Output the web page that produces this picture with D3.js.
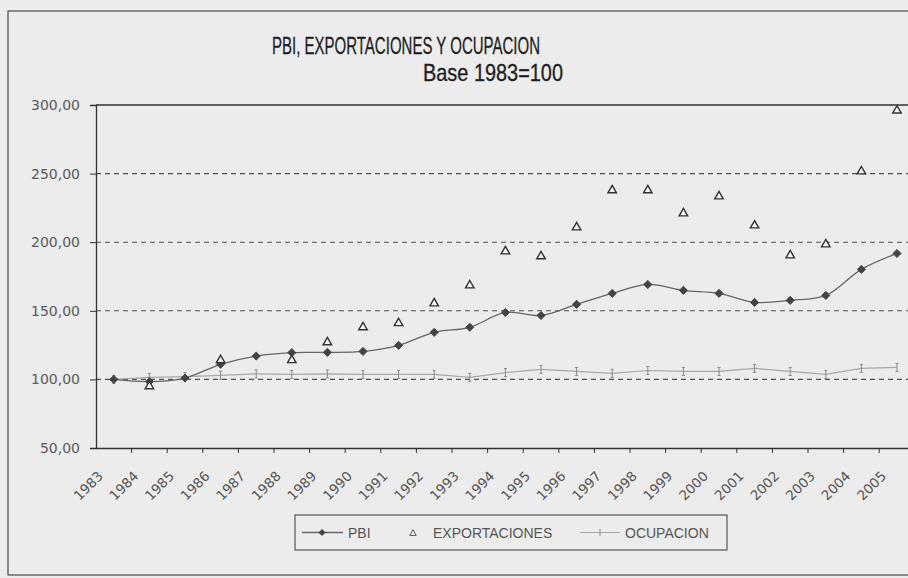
<!DOCTYPE html>
<html><head><meta charset="utf-8">
<script src="https://cdn.jsdelivr.net/npm/d3@7"></script>
<style>
html,body{margin:0;padding:0;background:#ececec;}
svg{display:block;}
</style></head>
<body>
<svg id="chart" width="908" height="578"></svg>
<script>
const years = ["1983","1984","1985","1986","1987","1988","1989","1990","1991","1992","1993","1994","1995","1996","1997","1998","1999","2000","2001","2002","2003","2004","2005"];
const pbi = [100,98.4,101,111,117,119.5,119.7,120.4,124.8,134.3,138,148.8,146.6,154.7,162.7,169.2,164.9,162.7,156.1,157.6,161.2,180.2,191.8];
const exportaciones = [null,95,null,114,null,114,127,138,141,155.4,168.5,193.3,189.7,210.8,237.8,237.8,221,233.4,212.2,190.4,198.4,251.6,296];
const ocupacion = [100,101.5,102,103,104,103.6,104,103.6,103.6,103.6,101.5,105,107.3,105.8,104.4,106.5,105.8,105.8,108,105.8,103.6,108,108.7];
const yTicks = [50,100,150,200,250,300];
const seriesNames = ["PBI","EXPORTACIONES","OCUPACION"];
const titleText = "PBI, EXPORTACIONES Y OCUPACION";
const subtitleText = "Base 1983=100";

(function(){
const svg = d3.select("#chart");
const pLeft = 96, pTop = 105, pBottom = 448, band = 35.6;
const x = d3.scaleBand().domain(years).range([pLeft, pLeft + band*years.length]).padding(0);
const y = d3.scaleLinear().domain([50,300]).range([pBottom, pTop]);
const cx = d => x(d) + x.bandwidth()/2;
const fmt = v => d3.format(".2f")(v).replace(".", ",");
const narrow = "'Liberation Sans Narrow','Arial Narrow','Liberation Sans',sans-serif";

// outer frame
svg.append("rect").attr("x",8).attr("y",11).attr("width",960).attr("height",564)
  .attr("fill","#ececec").attr("stroke","#4a4a4a").attr("stroke-width",1.2);

// title
svg.append("text").attr("x",406).attr("y",54).attr("text-anchor","middle")
  .attr("font-family",narrow).attr("font-size",24).attr("fill","#1e1e1e")
  .attr("stroke","#1e1e1e").attr("stroke-width",0.3)
  .attr("textLength",268).attr("lengthAdjust","spacingAndGlyphs").text(titleText);
svg.append("text").attr("x",493).attr("y",81).attr("text-anchor","middle")
  .attr("font-family",narrow).attr("font-size",24).attr("fill","#1e1e1e")
  .attr("stroke","#1e1e1e").attr("stroke-width",0.3)
  .attr("textLength",140).attr("lengthAdjust","spacingAndGlyphs").text(subtitleText);

// gridlines
svg.append("g").selectAll("line").data(yTicks.filter(t => t>50 && t<300)).join("line")
  .attr("x1",pLeft).attr("x2",915).attr("y1",d=>y(d)).attr("y2",d=>y(d))
  .attr("stroke","#505050").attr("stroke-width",1.1).attr("stroke-dasharray","5,4");
// top border of plot
svg.append("line").attr("x1",pLeft).attr("x2",915).attr("y1",y(300)).attr("y2",y(300))
  .attr("stroke","#333").attr("stroke-width",1.3);

// y axis
const yAxis = svg.append("g").attr("transform",`translate(${pLeft},0)`)
  .call(d3.axisLeft(y).tickValues(yTicks).tickFormat(fmt).tickSize(6).tickPadding(10));
yAxis.select(".domain").attr("stroke","#333").attr("stroke-width",1.3);
yAxis.selectAll(".tick line").attr("stroke","#333");
yAxis.selectAll("text").attr("font-family","'DejaVu Sans',sans-serif").attr("font-size",14).attr("fill","#5a5a5a");

// x axis
const xAxis = svg.append("g").attr("transform",`translate(0,${pBottom})`)
  .call(d3.axisBottom(x).tickSize(0).tickPadding(0));
xAxis.select(".domain").attr("stroke","#333").attr("stroke-width",1.3);
xAxis.selectAll("text")
  .attr("font-family","'DejaVu Sans',sans-serif").attr("font-size",13.5).attr("fill","#555")
  .attr("text-anchor","end").attr("x",0).attr("y",0).attr("dy",0)
  .attr("transform","translate(-10,29) rotate(-45)");
// category boundary ticks
svg.append("g").selectAll("line").data(years.slice(1)).join("line")
  .attr("x1",d=>x(d)).attr("x2",d=>x(d)).attr("y1",pBottom).attr("y2",pBottom+5)
  .attr("stroke","#333");

// OCUPACION line
const line = d3.line().x((d,i)=>cx(years[i])).y(d=>y(d));
svg.append("path").datum(ocupacion).attr("d",line).attr("fill","none")
  .attr("stroke","#a8a8a8").attr("stroke-width",1.2);
svg.append("g").selectAll("path").data(ocupacion).join("path")
  .attr("d",(d,i)=>`M${cx(years[i])},${y(d)-4}V${y(d)+4}M${cx(years[i])-1.5},${y(d)-4}h3M${cx(years[i])-1.5},${y(d)+4}h3`)
  .attr("stroke","#8a8a8a").attr("stroke-width",1).attr("fill","none");

// PBI line
const smooth = d3.line().x((d,i)=>cx(years[i])).y(d=>y(d)).curve(d3.curveCatmullRom.alpha(0.5));
svg.append("path").datum(pbi).attr("d",smooth).attr("fill","none")
  .attr("stroke","#666").attr("stroke-width",1.3);
svg.append("g").selectAll("path").data(pbi).join("path")
  .attr("transform",(d,i)=>`translate(${cx(years[i])},${y(d)})`)
  .attr("d",d3.symbol(d3.symbolDiamond2,42)).attr("fill","#444").attr("stroke","#444");

// EXPORTACIONES markers
const tri = d3.symbol(d3.symbolTriangle2,52);
svg.append("g").selectAll("path").data(exportaciones.map((v,i)=>({v,i})).filter(d=>d.v!=null)).join("path")
  .attr("transform",d=>`translate(${cx(years[d.i])},${y(d.v)})`)
  .attr("d",tri).attr("fill","#f4f4f4").attr("stroke","#333").attr("stroke-width",1.4);

// legend
const lg = svg.append("g");
lg.append("rect").attr("x",295).attr("y",515).attr("width",432).attr("height",35)
  .attr("fill","#ececec").attr("stroke","#555").attr("stroke-width",1.2);
const ly = 532.5;
lg.append("line").attr("x1",302).attr("x2",343).attr("y1",ly).attr("y2",ly).attr("stroke","#666").attr("stroke-width",1.3);
lg.append("path").attr("transform",`translate(322,${ly})`).attr("d",d3.symbol(d3.symbolDiamond2,32)).attr("fill","#444");
lg.append("path").attr("transform",`translate(413,${ly+1})`).attr("d",d3.symbol(d3.symbolTriangle2,30)).attr("fill","#f4f4f4").attr("stroke","#555");
lg.append("line").attr("x1",580).attr("x2",620).attr("y1",ly).attr("y2",ly).attr("stroke","#a8a8a8").attr("stroke-width",1.2);
lg.append("path").attr("d",`M600,${ly-3.5}V${ly+3.5}`).attr("stroke","#8a8a8a");
const legX = [348, 433, 625];
lg.selectAll("text").data(seriesNames).join("text")
  .attr("x",(d,i)=>legX[i]).attr("y",ly+5)
  .attr("font-family","'Liberation Sans',Arial,sans-serif").attr("font-size",14).attr("fill","#555")
  .text(d=>d);
})();
</script>
</body></html>
